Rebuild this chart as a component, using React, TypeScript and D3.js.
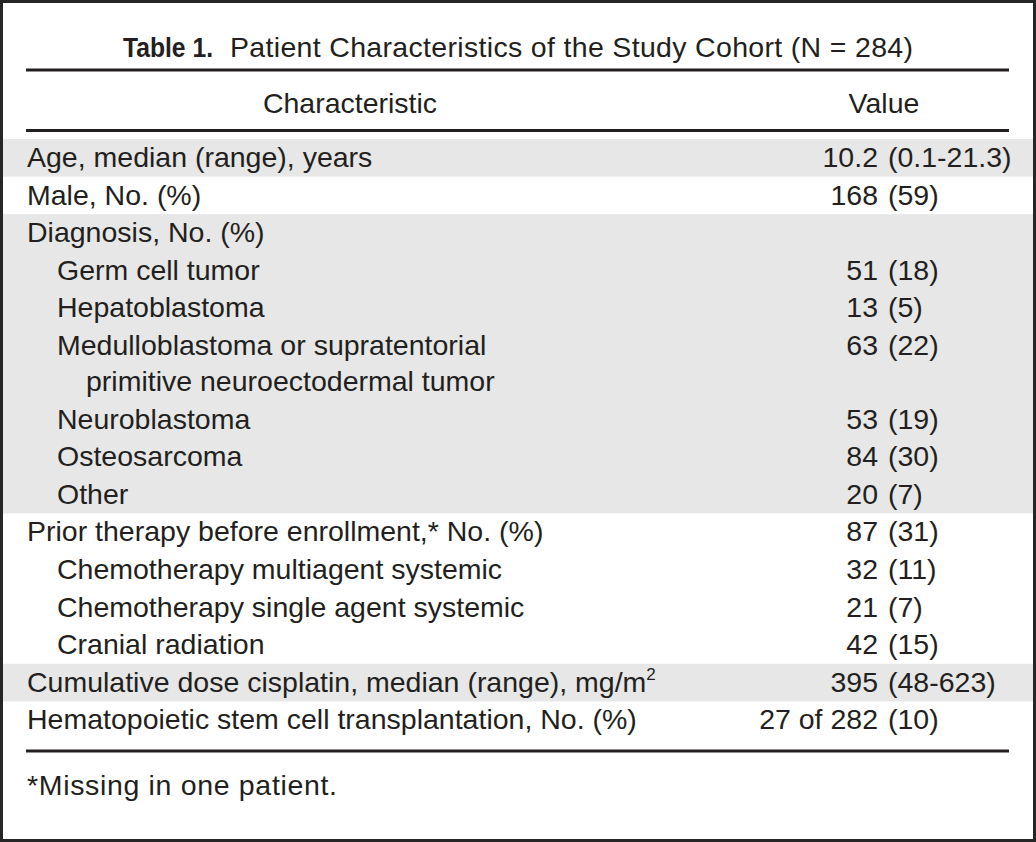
import React from "react";
import * as d3 from "d3";

const titleLabel = "Table 1.";
const titleText = "Patient Characteristics of the Study Cohort (N = 284)";
const headerLeft = "Characteristic";
const headerRight = "Value";

const characteristics: string[][] = [
  ["Age, median (range), years"],
  ["Male, No. (%)"],
  ["Diagnosis, No. (%)"],
  ["Germ cell tumor"],
  ["Hepatoblastoma"],
  ["Medulloblastoma or supratentorial", "primitive neuroectodermal tumor"],
  ["Neuroblastoma"],
  ["Osteosarcoma"],
  ["Other"],
  ["Prior therapy before enrollment,* No. (%)"],
  ["Chemotherapy multiagent systemic"],
  ["Chemotherapy single agent systemic"],
  ["Cranial radiation"],
  ["Cumulative dose cisplatin, median (range), mg/m"],
  ["Hematopoietic stem cell transplantation, No. (%)"],
];
const indentLevels = [0, 0, 0, 1, 1, 1, 1, 1, 1, 0, 1, 1, 1, 0, 0];
const mainValues = ["10.2", "168", "", "51", "13", "63", "53", "84", "20", "87", "32", "21", "42", "395", "27 of 282"];
const parenValues = ["(0.1-21.3)", "(59)", "", "(18)", "(5)", "(22)", "(19)", "(30)", "(7)", "(31)", "(11)", "(7)", "(15)", "(48-623)", "(10)"];
const superscripts = ["", "", "", "", "", "", "", "", "", "", "", "", "", "2", ""];
// shaded groups: [first row index, last row index]
const shadedGroups: [number, number][] = [[0, 0], [2, 8], [13, 13]];
const footnote = "*Missing in one patient.";

const W = 1036;
const H = 842;
const FONT = "'Liberation Sans', Arial, Helvetica, sans-serif";
const FS = 28.5;
const TEXT = "#231f20";
const SHADE = "#e6e7e6";

export default function App() {
  const rowStep = 37.6;
  const wrapStep = 36;
  const heights = characteristics.map((c) => rowStep + (c.length - 1) * wrapStep);
  const tops = [0, ...Array.from(d3.cumsum(heights))];
  const y = d3.scaleLinear().domain([0, 1]).range([139, 140]);
  const yTop = (i: number) => y(tops[i]);
  const indentX = d3.scaleOrdinal<number, number>().domain([0, 1, 2]).range([27, 57, 86]);
  const valueSplitX = 878;

  return (
    <svg width={W} height={H} style={{ position: "absolute", left: 0, top: 0 }}>
      <rect x={0} y={0} width={W} height={H} fill="#262626" />
      <rect x={3} y={3} width={1030} height={836} fill="#ffffff" />

      {shadedGroups.map(([a, b], k) => (
        <rect key={k} x={3} y={yTop(a)} width={1030} height={yTop(b + 1) - yTop(a)} fill={SHADE} />
      ))}

      <g fontFamily={FONT} fill={TEXT}>
        <text x={123} y={57} fontSize={FS} fontWeight="bold" textLength={90} lengthAdjust="spacingAndGlyphs">
          {titleLabel}
        </text>
        <text x={230} y={57} fontSize={FS} textLength={683} lengthAdjust="spacing">{titleText}</text>

        <line x1={26} x2={1009} y1={70} y2={70} stroke={TEXT} strokeWidth={3} />
        <text x={350} y={113} fontSize={FS} textAnchor="middle">{headerLeft}</text>
        <text x={884} y={113} fontSize={FS} textAnchor="middle">{headerRight}</text>
        <line x1={26} x2={1009} y1={130.5} y2={130.5} stroke={TEXT} strokeWidth={3} />

        {characteristics.map((lines, i) => {
          const base = yTop(i) + 28;
          return (
            <g key={i}>
              {lines.map((ln, j) => (
                <text key={j} x={indentX(indentLevels[i] + j)} y={base + j * wrapStep} fontSize={FS}>
                  {ln}
                  {superscripts[i] && j === lines.length - 1 ? (
                    <tspan fontSize={17} dy={-12}>{superscripts[i]}</tspan>
                  ) : null}
                </text>
              ))}
              {mainValues[i] ? (
                <text x={valueSplitX} y={base} fontSize={FS} textAnchor="end">{mainValues[i]}</text>
              ) : null}
              {parenValues[i] ? (
                <text x={valueSplitX + 10} y={base} fontSize={FS}>{parenValues[i]}</text>
              ) : null}
            </g>
          );
        })}

        <line x1={26} x2={1009} y1={751} y2={751} stroke={TEXT} strokeWidth={3} />
        <text x={27} y={795} fontSize={FS} textLength={310} lengthAdjust="spacing">{footnote}</text>
      </g>
    </svg>
  );
}
